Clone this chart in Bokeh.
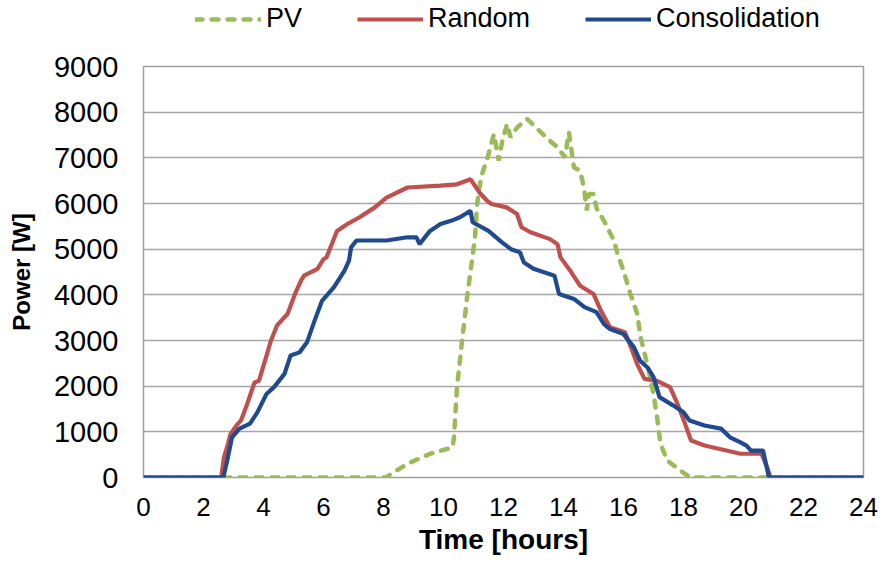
from bokeh.plotting import figure
from bokeh.layouts import column
from bokeh.models import Range1d, FixedTicker, Legend, LegendItem
from bokeh.embed import file_html
from bokeh.resources import INLINE

# ---- data (hours, watts) ----
pv_hours = [0, 8.07, 8.8, 9.55, 10.3, 10.35, 10.45, 10.62, 10.8, 10.95, 11.05, 11.12, 11.25, 11.5,
            11.68, 11.84, 11.96, 12.12, 12.23, 12.46, 12.79, 13.2, 13.55, 13.8, 14.05, 14.18, 14.3,
            14.35, 14.55, 14.68, 14.78, 14.85, 15.0, 15.1, 15.35, 15.68, 15.8, 16.0, 16.23, 16.46,
            16.57, 16.68, 16.84, 17.0, 17.12, 17.23, 17.46, 17.9, 18.23, 24]
pv_watts = [0, 0, 300, 520, 660, 880, 1980, 3000, 4020, 4750, 5260, 5990, 6570, 7080,
            7520, 6940, 7370, 7740, 7450, 7670, 7850, 7590, 7370, 7230, 7010, 7560, 7010,
            6790, 6720, 6350, 5850, 6210, 6210, 5900, 5620, 5190, 4900, 4530, 4020, 3580,
            3070, 2780, 2340, 1830, 1320, 740, 370, 150, 0, 0]

random_hours = [0, 2.59, 2.68, 2.8, 2.9, 3.1, 3.25, 3.45, 3.7, 3.85, 4.05, 4.25, 4.45, 4.8, 5.05,
                5.25, 5.35, 5.8, 6.0, 6.1, 6.45, 6.8, 7.2, 7.7, 8.1, 8.8, 9.9, 10.45, 10.9, 11.2,
                11.45, 11.6, 12.1, 12.45, 12.6, 12.9, 13.55, 13.8, 13.9, 14.2, 14.55, 15.0, 15.25,
                15.55, 16.05, 16.25, 16.45, 16.7, 17.1, 17.55, 17.8, 18.05, 18.25, 18.7, 19.9,
                20.6, 20.8, 20.9, 24]
random_watts = [0, 0, 440, 700, 950, 1140, 1250, 1600, 2080, 2120, 2560, 3000, 3330, 3580, 4020,
                4310, 4420, 4570, 4780, 4820, 5400, 5550, 5700, 5910, 6130, 6350, 6390, 6420, 6530, 6240,
                6060, 5990, 5915, 5770, 5480, 5370, 5220, 5110, 4820, 4550, 4200, 4020, 3650,
                3290, 3180, 2850, 2490, 2160, 2120, 1980, 1610, 1180, 810, 700, 520,
                520, 200, 0, 0]

consol_hours = [0, 2.66, 2.79, 2.95, 3.2, 3.55, 3.8, 4.1, 4.35, 4.7, 4.9, 5.2, 5.45, 5.7, 5.95,
                6.35, 6.7, 6.85, 6.92, 7.1, 8.1, 8.8, 9.1, 9.2, 9.55, 9.9, 10.25, 10.55, 10.9,
                10.97, 11.5, 11.95, 12.25, 12.55, 12.68, 13.0, 13.7, 13.85, 14.35, 14.7, 15.1,
                15.35, 15.55, 16.0, 16.35, 16.55, 16.8, 17.0, 17.2, 17.65, 18.0, 18.2, 18.7,
                19.25, 19.55, 19.9, 20.1, 20.25, 20.65, 20.85, 24]
consol_watts = [0, 0, 370, 880, 1070, 1180, 1430, 1830, 1980, 2270, 2670, 2740, 2960, 3430, 3870,
                4170, 4530, 4750, 5040, 5190, 5190, 5260, 5260, 5110, 5400, 5550, 5620, 5700, 5840,
                5590, 5400, 5150, 5000, 4930, 4710, 4570, 4420, 4020, 3910, 3730, 3620,
                3360, 3250, 3140, 2850, 2560, 2410, 2200, 1760, 1580, 1430, 1250, 1140,
                1070, 880, 770, 700, 590, 590, 0, 0]

series_names = ["PV", "Random", "Consolidation"]
x_ticks = list(range(0, 25, 2))
y_ticks = list(range(0, 9001, 1000))

FONT = "Liberation Sans"
PV_STYLE = dict(line_color="#9bbb59", line_width=4.5, line_dash="7 9", line_cap="round")
RAND_STYLE = dict(line_color="#c0504d", line_width=4.2)
CONS_STYLE = dict(line_color="#1f4b8e", line_width=4.2)

# ---- main plot ----
p = figure(width=881, height=511, output_backend="svg", toolbar_location=None,
           x_range=Range1d(0, 24), y_range=Range1d(0, 9000))
p.min_border_left = 143
p.min_border_right = 18
p.min_border_top = 16
p.min_border_bottom = 84
p.background_fill_color = "white"
p.border_fill_color = "white"
p.outline_line_color = "#a0a0a0"
p.outline_line_width = 1.5

p.line(pv_hours, pv_watts, **PV_STYLE)
p.line(random_hours, random_watts, **RAND_STYLE)
p.line(consol_hours, consol_watts, **CONS_STYLE)

p.xaxis.ticker = FixedTicker(ticks=x_ticks)
p.yaxis.ticker = FixedTicker(ticks=y_ticks)
p.xgrid.grid_line_color = None
p.ygrid.grid_line_color = "#a6a6a6"
p.ygrid.grid_line_width = 1.5

for ax in (p.xaxis[0], p.yaxis[0]):
    ax.axis_line_color = None
    ax.major_tick_line_color = None
    ax.minor_tick_line_color = None
    ax.major_tick_out = 0
    ax.major_tick_in = 0
    ax.minor_tick_out = 0
    ax.major_label_text_font = FONT
    ax.major_label_text_color = "black"
    ax.axis_label_text_font = FONT
    ax.axis_label_text_font_style = "bold"
    ax.axis_label_text_color = "black"

p.xaxis.major_label_text_font_size = "26px"
p.yaxis.major_label_text_font_size = "29px"
p.xaxis.axis_label_text_font_size = "28px"
p.yaxis.axis_label_text_font_size = "24px"

p.xaxis.axis_label = "Time [hours]"
p.yaxis.axis_label = "Power [W]"
p.xaxis.major_label_standoff = 20
p.xaxis.axis_label_standoff = 5
p.yaxis.major_label_standoff = 25
p.yaxis.axis_label_standoff = 16

# ---- legend strip above the plot (swatch lines sit outside its ranges) ----
lg = figure(width=881, height=50, output_backend="svg", toolbar_location=None,
            x_range=Range1d(0, 1), y_range=Range1d(0, 1))
lg.min_border = 0
lg.axis.visible = False
lg.grid.visible = False
lg.outline_line_color = None
lg.background_fill_color = "white"
lg.border_fill_color = "white"
k_pv = lg.line([-5, -4], [-5, -4], **PV_STYLE)
k_rand = lg.line([-5, -4], [-5, -4], **RAND_STYLE)
k_cons = lg.line([-5, -4], [-5, -4], **CONS_STYLE)

legend = Legend(items=[LegendItem(label=series_names[0], renderers=[k_pv]),
                       LegendItem(label=series_names[1], renderers=[k_rand]),
                       LegendItem(label=series_names[2], renderers=[k_cons])],
                orientation="horizontal", location=(52, 16))
legend.label_text_font = FONT
legend.label_text_font_size = "27px"
legend.label_text_color = "black"
legend.glyph_width = 66
legend.glyph_height = 30
legend.label_height = 30
legend.label_standoff = 5
legend.spacing = 55
legend.padding = 0
legend.margin = 0
legend.border_line_color = None
legend.background_fill_alpha = 0
lg.add_layout(legend, "center")

layout = column(lg, p, spacing=0)
open("out.html", "w").write(file_html(layout, INLINE))
